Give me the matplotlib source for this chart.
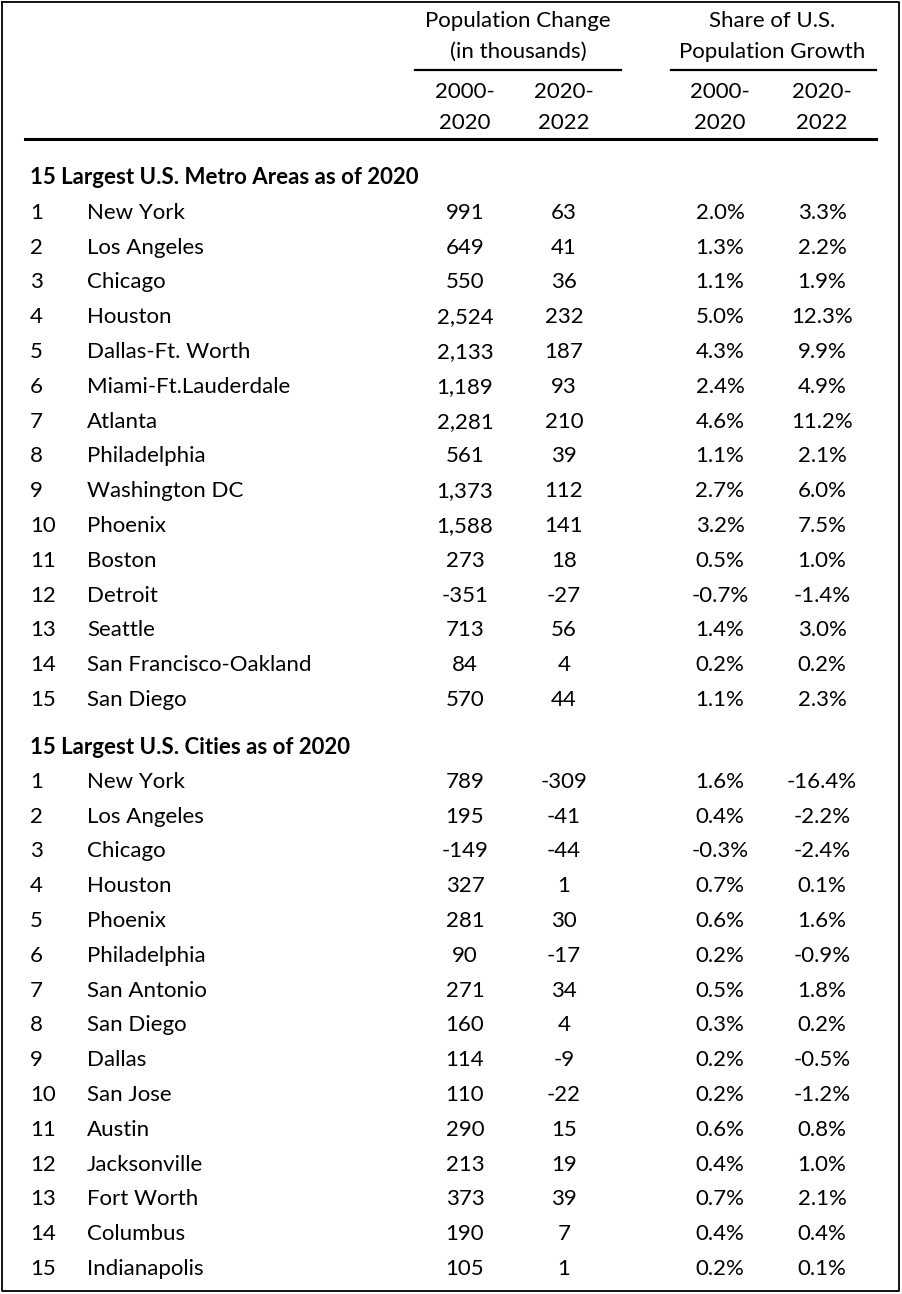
import matplotlib
import matplotlib.pyplot as plt

matplotlib.use("Agg")
plt.rcParams['font.family'] = ['Lato', 'DejaVu Sans']

metro_names = ["New York", "Los Angeles", "Chicago", "Houston", "Dallas-Ft. Worth",
               "Miami-Ft.Lauderdale", "Atlanta", "Philadelphia", "Washington DC",
               "Phoenix", "Boston", "Detroit", "Seattle", "San Francisco-Oakland",
               "San Diego"]
metro_chg_00_20 = ["991", "649", "550", "2,524", "2,133", "1,189", "2,281", "561",
                   "1,373", "1,588", "273", "-351", "713", "84", "570"]
metro_chg_20_22 = ["63", "41", "36", "232", "187", "93", "210", "39", "112", "141",
                   "18", "-27", "56", "4", "44"]
metro_share_00_20 = ["2.0%", "1.3%", "1.1%", "5.0%", "4.3%", "2.4%", "4.6%", "1.1%",
                     "2.7%", "3.2%", "0.5%", "-0.7%", "1.4%", "0.2%", "1.1%"]
metro_share_20_22 = ["3.3%", "2.2%", "1.9%", "12.3%", "9.9%", "4.9%", "11.2%", "2.1%",
                     "6.0%", "7.5%", "1.0%", "-1.4%", "3.0%", "0.2%", "2.3%"]

city_names = ["New York", "Los Angeles", "Chicago", "Houston", "Phoenix",
              "Philadelphia", "San Antonio", "San Diego", "Dallas", "San Jose",
              "Austin", "Jacksonville", "Fort Worth", "Columbus", "Indianapolis"]
city_chg_00_20 = ["789", "195", "-149", "327", "281", "90", "271", "160", "114",
                  "110", "290", "213", "373", "190", "105"]
city_chg_20_22 = ["-309", "-41", "-44", "1", "30", "-17", "34", "4", "-9", "-22",
                  "15", "19", "39", "7", "1"]
city_share_00_20 = ["1.6%", "0.4%", "-0.3%", "0.7%", "0.6%", "0.2%", "0.5%", "0.3%",
                    "0.2%", "0.2%", "0.6%", "0.4%", "0.7%", "0.4%", "0.2%"]
city_share_20_22 = ["-16.4%", "-2.2%", "-2.4%", "0.1%", "1.6%", "-0.9%", "1.8%",
                    "0.2%", "-0.5%", "-1.2%", "0.8%", "1.0%", "2.1%", "0.4%", "0.1%"]

sections = [
    ("15 Largest U.S. Metro Areas as of 2020", metro_names,
     [metro_chg_00_20, metro_chg_20_22, metro_share_00_20, metro_share_20_22]),
    ("15 Largest U.S. Cities as of 2020", city_names,
     [city_chg_00_20, city_chg_20_22, city_share_00_20, city_share_20_22]),
]

W, H = 902, 1294
fig = plt.figure(figsize=(W / 100, H / 100), dpi=100)
ax = fig.add_axes([0, 0, 1, 1])
ax.set_xlim(0, W)
ax.set_ylim(H, 0)
ax.axis('off')

fs = 16
col_x = [465, 564, 720, 822]

# outer border
ax.plot([1.5, 898.5, 898.5, 1.5, 1.5], [1.5, 1.5, 1290.5, 1290.5, 1.5], color='black', lw=1.3)

# group headers
ax.text(518, 21, "Population Change", ha='center', va='center', fontsize=fs)
ax.text(518, 52, "(in thousands)", ha='center', va='center', fontsize=fs)
ax.plot([415, 621], [70, 70], color='black', lw=1.6)
ax.text(772, 21, "Share of U.S.", ha='center', va='center', fontsize=fs)
ax.text(772, 52, "Population Growth", ha='center', va='center', fontsize=fs)
ax.plot([671, 876], [70, 70], color='black', lw=1.6)

for x, (a, b) in zip(col_x, [("2000-", "2020"), ("2020-", "2022"),
                             ("2000-", "2020"), ("2020-", "2022")]):
    ax.text(x, 92, a, ha='center', va='center', fontsize=fs)
    ax.text(x, 123, b, ha='center', va='center', fontsize=fs)
ax.plot([25, 876], [139, 139], color='black', lw=2.2)

row_h = 34.8
y0 = 178
for title, names, cols in sections:
    ax.text(30, y0, title, ha='left', va='center', fontsize=fs, fontweight='bold')
    for i, name in enumerate(names):
        y = y0 + (i + 1) * row_h
        ax.text(30, y, str(i + 1), ha='left', va='center', fontsize=fs)
        ax.text(87, y, name, ha='left', va='center', fontsize=fs)
        for x, col in zip(col_x, cols):
            ax.text(x, y, col[i], ha='center', va='center', fontsize=fs)
    y0 = 747

fig.savefig("out.png", dpi=100)
